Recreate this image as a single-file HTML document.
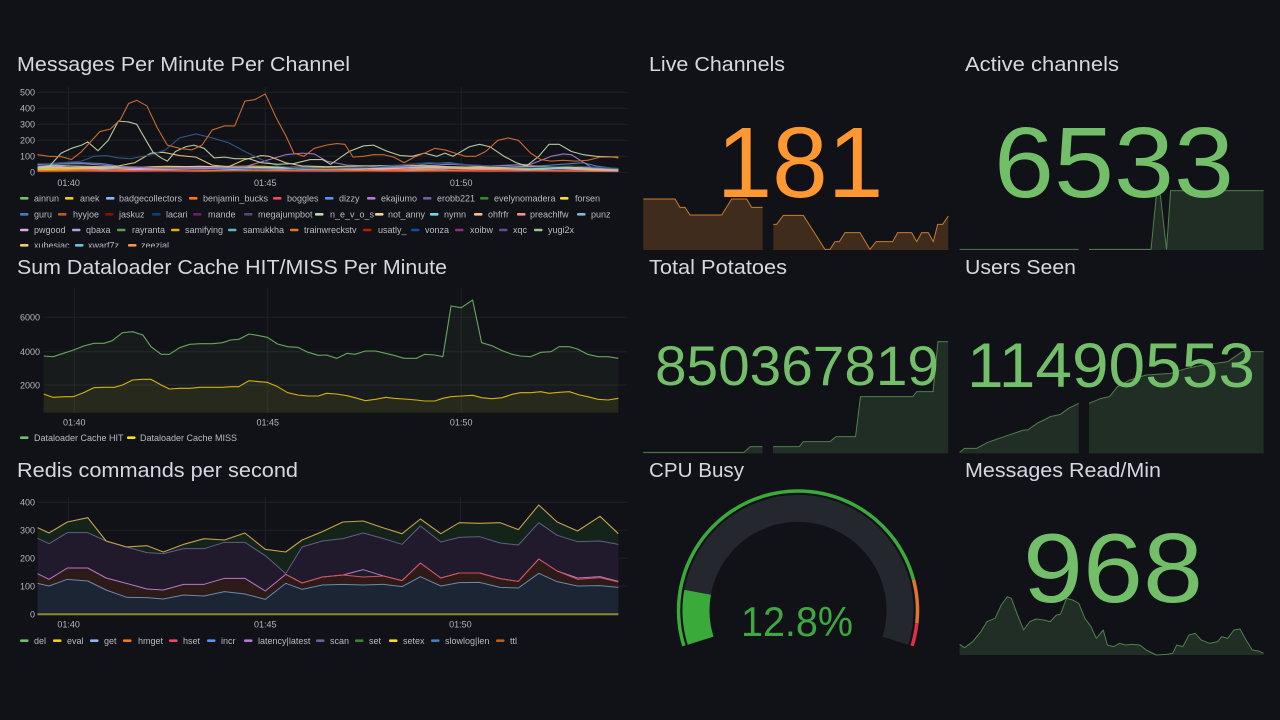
<!DOCTYPE html>
<html>
<head>
<meta charset="utf-8">
<style>
html,body{margin:0;padding:0;background:#111217;width:1280px;height:720px;overflow:hidden;}
svg{display:block;}
text{font-family:"Liberation Sans",Arial,sans-serif;}
.t{font-size:20.5px;fill:#d6d7e0;}
.ax{font-size:9px;fill:#b4b5bf;}
.lg{font-size:9px;fill:#b9bac4;}
.grid{stroke:#202127;stroke-width:1;}
.ns{vector-effect:non-scaling-stroke;fill:none;stroke-linejoin:round;}
</style>
</head>
<body>
<svg width="1280" height="720" viewBox="0 0 1280 720" xmlns="http://www.w3.org/2000/svg">
<rect x="0" y="0" width="1280" height="720" fill="#111217"/>
<defs>
<clipPath id="c1"><rect x="0" y="0" width="640" height="247.5"/></clipPath>
</defs>

<!-- ============ CHART 1 ============ -->
<text class="t" x="17" y="71" textLength="333" lengthAdjust="spacingAndGlyphs">Messages Per Minute Per Channel</text>
<g>
<line class="grid" x1="37.5" y1="92.3" x2="628" y2="92.3"/>
<line class="grid" x1="37.5" y1="108.3" x2="628" y2="108.3"/>
<line class="grid" x1="37.5" y1="124.3" x2="628" y2="124.3"/>
<line class="grid" x1="37.5" y1="140.3" x2="628" y2="140.3"/>
<line class="grid" x1="37.5" y1="156.3" x2="628" y2="156.3"/>
<line class="grid" x1="37.5" y1="172.3" x2="628" y2="172.3"/>
<line class="grid" x1="68.6" y1="87" x2="68.6" y2="172.3"/>
<line class="grid" x1="265.3" y1="87" x2="265.3" y2="172.3"/>
<line class="grid" x1="461.2" y1="87" x2="461.2" y2="172.3"/>
</g>
<g text-anchor="end">
<text class="ax" x="35" y="95.5">500</text>
<text class="ax" x="35" y="111.5">400</text>
<text class="ax" x="35" y="127.5">300</text>
<text class="ax" x="35" y="143.5">200</text>
<text class="ax" x="35" y="159.5">100</text>
<text class="ax" x="35" y="175.5">0</text>
</g>
<g text-anchor="middle">
<text class="ax" x="68.6" y="186">01:40</text>
<text class="ax" x="265.3" y="186">01:45</text>
<text class="ax" x="461.2" y="186">01:50</text>
</g>
<g transform="translate(0,172.33) scale(0.40816,-0.16)" stroke-width="1.1">
<polyline class="ns" stroke="#F2495C" points="92,6 200,8 300,6 400,8 500,6 600,10 700,8 800,6 900,8 1000,6 1100,8 1200,6 1300,8 1400,6 1515,5"/>
<polyline class="ns" stroke="#E0752D" points="92,8 200,10 300,12 400,15 500,12 600,10 700,12 800,15 900,12 1000,10 1100,12 1200,15 1300,12 1400,10 1515,8"/>
<polyline class="ns" stroke="#73BF69" points="92,20 130,22 170,25 210,20 250,18 290,22 330,25 370,28 410,30 450,26 490,24 530,22 570,20 610,25 650,28 690,22 730,20 770,18 810,20 850,22 890,25 930,28 970,30 1010,26 1050,22 1090,20 1130,24 1170,26 1210,22 1250,20 1290,18 1330,22 1370,25 1410,20 1450,18 1490,15 1515,12"/>
<polyline class="ns" stroke="#F2CC0C" points="92,15 130,18 170,20 210,22 250,25 290,28 330,30 370,35 410,38 450,36 490,33 530,35 570,38 610,36 650,30 690,28 730,25 770,22 810,20 850,18 890,20 930,22 970,25 1010,28 1050,30 1090,32 1130,30 1170,28 1210,25 1250,22 1290,20 1330,18 1370,22 1410,25 1450,30 1490,20 1515,15"/>
<polyline class="ns" stroke="#8AB8FF" points="92,50 130,45 170,40 210,35 250,30 290,28 330,25 370,22 410,20 450,22 490,25 530,20 570,18 610,20 650,22 690,25 730,20 770,18 810,15 850,18 890,20 930,22 970,18 1010,15 1050,18 1090,20 1130,25 1170,22 1210,20 1250,18 1290,15 1330,20 1370,22 1410,18 1450,15 1490,12 1515,10"/>
<polyline class="ns" stroke="#FF780A" points="92,10 130,12 170,15 210,18 250,20 290,25 330,30 370,28 410,25 450,22 490,25 530,30 570,35 610,40 650,38 690,30 730,25 770,20 810,18 850,15 890,12 930,15 970,18 1010,20 1050,22 1090,25 1130,20 1170,18 1210,15 1250,20 1290,25 1330,30 1370,35 1410,30 1450,25 1490,20 1515,15"/>
<polyline class="ns" stroke="#70DBED" points="92,35 130,30 170,25 210,28 250,30 290,32 330,30 370,28 410,25 450,30 490,35 530,32 570,28 610,25 650,28 690,30 730,32 770,28 810,25 850,22 890,20 930,25 970,28 1010,30 1050,35 1090,32 1130,28 1170,30 1210,32 1250,30 1290,28 1330,25 1370,30 1410,28 1450,25 1490,20 1515,18"/>
<polyline class="ns" stroke="#F9BA8F" points="92,30 130,28 170,26 210,28 250,32 290,35 330,30 370,28 410,32 450,35 490,38 530,35 570,32 610,30 650,28 690,26 730,30 770,32 810,28 850,25 890,28 930,30 970,32 1010,35 1050,30 1090,28 1130,32 1170,35 1210,40 1250,38 1290,30 1330,28 1370,32 1410,30 1450,28 1490,25 1515,22"/>
<polyline class="ns" stroke="#E5A8E2" points="92,40 130,35 170,30 210,25 250,22 290,20 330,18 370,20 410,22 450,25 490,28 530,30 570,25 610,22 650,20 690,18 730,22 770,25 810,28 850,25 890,22 930,20 970,25 1010,28 1050,30 1090,28 1130,25 1170,22 1210,20 1250,25 1290,28 1330,30 1370,25 1410,22 1450,20 1490,18 1515,15"/>
<polyline class="ns" stroke="#9AC48A" points="92,45 150,40 250,35 350,30 450,28 550,32 650,35 750,30 850,28 950,32 1050,35 1150,30 1250,28 1350,30 1450,25 1515,20"/>
<polyline class="ns" stroke="#4a7fb8" points="92,45 150,60 200,60 250,55 300,35 400,25 500,20 600,25 700,20 800,25 900,30 1000,35 1050,55 1100,60 1150,45 1200,40 1300,35 1400,55 1430,60 1460,40 1515,20"/>
<polyline class="ns" stroke="#a074c0" points="92,50 200,55 300,35 400,30 500,30 600,35 700,110 740,120 770,115 800,70 850,45 900,40 1000,35 1100,50 1200,40 1300,50 1350,100 1380,115 1400,110 1450,30 1515,20"/>
<polyline class="ns" stroke="#d8c07a" points="92,25 200,30 280,35 330,60 370,120 400,125 440,105 480,95 520,45 560,35 600,80 640,105 660,100 700,60 740,40 800,35 900,40 1000,45 1100,35 1200,30 1300,40 1400,30 1450,15 1515,15"/>
<polyline class="ns" stroke="#2a5783" points="92,40 150,60 200,70 230,100 260,105 290,90 320,85 370,110 405,140 440,215 480,240 520,215 560,185 600,130 640,80 680,40 720,30 800,25 900,30 1000,50 1050,60 1100,55 1200,40 1300,30 1400,40 1515,25"/>
<polyline class="ns" stroke="#b8c9a0" points="92,30 120,35 150,120 175,150 200,170 215,190 240,135 265,200 290,320 315,315 335,300 360,190 375,125 395,90 410,70 430,130 455,160 475,170 500,150 525,90 550,95 575,85 610,85 640,60 680,50 720,55 760,80 790,80 810,50 855,130 890,165 915,170 945,135 980,105 1010,100 1040,120 1070,100 1090,120 1110,100 1150,160 1175,175 1200,160 1235,100 1265,60 1290,40 1320,100 1345,175 1370,175 1400,130 1430,110 1460,100 1515,95"/>
<polyline class="ns" stroke="#cc6a2e" points="92,110 120,100 150,98 175,80 200,130 225,200 245,255 270,270 295,330 315,430 335,450 360,415 385,280 410,170 440,150 470,140 495,170 520,265 550,290 575,290 600,445 625,455 650,490 675,350 700,230 720,120 745,100 770,150 800,170 825,180 845,175 865,95 890,100 915,110 940,110 965,95 990,60 1015,95 1040,120 1065,150 1090,140 1115,120 1140,100 1165,100 1190,130 1220,200 1245,215 1270,200 1300,120 1325,80 1350,70 1380,75 1410,70 1440,75 1470,95 1500,95 1515,90"/>
</g>
<!-- legend chart1 -->
<g clip-path="url(#c1)">
<g>
<rect x="20" y="197" width="8.5" height="2.6" rx="1" fill="#73BF69"/><text class="lg" x="34" y="201.5">ainrun</text>
<rect x="65" y="197" width="8.5" height="2.6" rx="1" fill="#F2CC0C"/><text class="lg" x="80" y="201.5">anek</text>
<rect x="106" y="197" width="8.5" height="2.6" rx="1" fill="#8AB8FF"/><text class="lg" x="119" y="201.5">badgecollectors</text>
<rect x="189" y="197" width="8.5" height="2.6" rx="1" fill="#FF780A"/><text class="lg" x="203" y="201.5">benjamin_bucks</text>
<rect x="273" y="197" width="8.5" height="2.6" rx="1" fill="#F2495C"/><text class="lg" x="287" y="201.5">boggles</text>
<rect x="325" y="197" width="8.5" height="2.6" rx="1" fill="#5794F2"/><text class="lg" x="339" y="201.5">dizzy</text>
<rect x="367" y="197" width="8.5" height="2.6" rx="1" fill="#B877D9"/><text class="lg" x="381" y="201.5">ekajiumo</text>
<rect x="423" y="197" width="8.5" height="2.6" rx="1" fill="#705DA0"/><text class="lg" x="437" y="201.5">erobb221</text>
<rect x="480" y="197" width="8.5" height="2.6" rx="1" fill="#37872D"/><text class="lg" x="494" y="201.5">evelynomadera</text>
<rect x="560" y="197" width="8.5" height="2.6" rx="1" fill="#FADE2A"/><text class="lg" x="575" y="201.5">forsen</text>
</g>
<g>
<rect x="20" y="213" width="8.5" height="2.6" rx="1" fill="#447EBC"/><text class="lg" x="34" y="217.5">guru</text>
<rect x="58" y="213" width="8.5" height="2.6" rx="1" fill="#C15C17"/><text class="lg" x="73" y="217.5">hyyjoe</text>
<rect x="105" y="213" width="8.5" height="2.6" rx="1" fill="#890F02"/><text class="lg" x="119" y="217.5">jaskuz</text>
<rect x="152" y="213" width="8.5" height="2.6" rx="1" fill="#0A437C"/><text class="lg" x="166" y="217.5">lacari</text>
<rect x="193" y="213" width="8.5" height="2.6" rx="1" fill="#6D1F62"/><text class="lg" x="208" y="217.5">mande</text>
<rect x="244" y="213" width="8.5" height="2.6" rx="1" fill="#584477"/><text class="lg" x="258" y="217.5">megajumpbot</text>
<rect x="315" y="213" width="8.5" height="2.6" rx="1" fill="#B7DBAB"/><text class="lg" x="330" y="217.5">n_e_v_o_s</text>
<rect x="375" y="213" width="8.5" height="2.6" rx="1" fill="#F4D598"/><text class="lg" x="388" y="217.5">not_anny</text>
<rect x="430" y="213" width="8.5" height="2.6" rx="1" fill="#70DBED"/><text class="lg" x="444" y="217.5">nymn</text>
<rect x="474" y="213" width="8.5" height="2.6" rx="1" fill="#F9BA8F"/><text class="lg" x="488" y="217.5">ohfrfr</text>
<rect x="517" y="213" width="8.5" height="2.6" rx="1" fill="#F29191"/><text class="lg" x="530" y="217.5">preachlfw</text>
<rect x="577" y="213" width="8.5" height="2.6" rx="1" fill="#82B5D8"/><text class="lg" x="591" y="217.5">punz</text>
</g>
<g>
<rect x="20" y="228.7" width="8.5" height="2.6" rx="1" fill="#E5A8E2"/><text class="lg" x="34" y="233.2">pwgood</text>
<rect x="72" y="228.7" width="8.5" height="2.6" rx="1" fill="#AEA2E0"/><text class="lg" x="86" y="233.2">qbaxa</text>
<rect x="117" y="228.7" width="8.5" height="2.6" rx="1" fill="#629E51"/><text class="lg" x="132" y="233.2">rayranta</text>
<rect x="171" y="228.7" width="8.5" height="2.6" rx="1" fill="#E5AC0E"/><text class="lg" x="185" y="233.2">samifying</text>
<rect x="228" y="228.7" width="8.5" height="2.6" rx="1" fill="#64B0C8"/><text class="lg" x="243" y="233.2">samukkha</text>
<rect x="290" y="228.7" width="8.5" height="2.6" rx="1" fill="#E0752D"/><text class="lg" x="304" y="233.2">trainwreckstv</text>
<rect x="363" y="228.7" width="8.5" height="2.6" rx="1" fill="#BF1B00"/><text class="lg" x="378" y="233.2">usatly_</text>
<rect x="411" y="228.7" width="8.5" height="2.6" rx="1" fill="#0A50A1"/><text class="lg" x="425" y="233.2">vonza</text>
<rect x="455" y="228.7" width="8.5" height="2.6" rx="1" fill="#962D82"/><text class="lg" x="470" y="233.2">xoibw</text>
<rect x="499" y="228.7" width="8.5" height="2.6" rx="1" fill="#614D93"/><text class="lg" x="513" y="233.2">xqc</text>
<rect x="534" y="228.7" width="8.5" height="2.6" rx="1" fill="#9AC48A"/><text class="lg" x="548" y="233.2">yugi2x</text>
</g>
<g>
<rect x="20" y="244" width="8.5" height="2.6" rx="1" fill="#F2C96D"/><text class="lg" x="34" y="248.6">xubesiac</text>
<rect x="75" y="244" width="8.5" height="2.6" rx="1" fill="#65C5DB"/><text class="lg" x="88" y="248.6">xwarf7z</text>
<rect x="128" y="244" width="8.5" height="2.6" rx="1" fill="#F9934E"/><text class="lg" x="141" y="248.6">zeezial</text>
</g>
</g>

<!-- ============ CHART 2 ============ -->
<text class="t" x="17" y="274" textLength="430" lengthAdjust="spacingAndGlyphs">Sum Dataloader Cache HIT/MISS Per Minute</text>
<g>
<line class="grid" x1="43.7" y1="317.3" x2="627" y2="317.3"/>
<line class="grid" x1="43.7" y1="351.7" x2="627" y2="351.7"/>
<line class="grid" x1="43.7" y1="385" x2="627" y2="385"/>
<line class="grid" x1="74.3" y1="288" x2="74.3" y2="412.7"/>
<line class="grid" x1="267.8" y1="288" x2="267.8" y2="412.7"/>
<line class="grid" x1="461.2" y1="288" x2="461.2" y2="412.7"/>
</g>
<g text-anchor="end">
<text class="ax" x="40" y="320.5">6000</text>
<text class="ax" x="40" y="355">4000</text>
<text class="ax" x="40" y="388.3">2000</text>
</g>
<g text-anchor="middle">
<text class="ax" x="74.3" y="425.6">01:40</text>
<text class="ax" x="267.8" y="425.6">01:45</text>
<text class="ax" x="461.2" y="425.6">01:50</text>
</g>
<g transform="translate(0,250) scale(0.40816,0.33333)">
<polygon fill="#73BF69" fill-opacity="0.06" points="107,318 130,320 160,308 180,300 205,288 230,280 255,280 275,272 300,248 325,245 350,255 370,290 395,313 415,313 440,293 465,283 490,281 520,281 545,278 565,270 585,268 610,252 635,257 655,262 680,282 705,290 730,292 755,307 780,316 800,315 825,325 850,310 870,313 895,303 920,303 945,310 965,316 990,325 1020,325 1040,313 1065,315 1085,320 1105,168 1130,173 1158,150 1180,278 1205,287 1230,302 1255,313 1275,318 1300,320 1325,307 1350,305 1370,290 1395,290 1415,297 1440,313 1465,320 1490,320 1515,325 1515,488 107,488"/>
<polygon fill="#FADE2A" fill-opacity="0.07" points="107,432 130,442 160,440 180,440 205,428 230,413 255,412 280,412 300,405 325,390 350,388 370,388 395,405 415,417 440,415 465,415 490,412 520,412 545,412 565,410 585,410 610,392 635,395 655,397 680,410 705,428 730,435 755,438 780,438 800,430 825,432 850,437 870,443 895,452 920,448 945,442 965,445 990,447 1020,450 1040,453 1065,453 1085,445 1105,440 1130,438 1158,436 1180,443 1205,446 1230,443 1255,433 1275,428 1300,428 1325,425 1345,430 1370,427 1395,425 1420,435 1440,440 1465,448 1490,450 1515,445 1515,488 107,488"/>
<polyline class="ns" stroke="#73BF69" stroke-opacity="0.85" stroke-width="1.1" points="107,318 130,320 160,308 180,300 205,288 230,280 255,280 275,272 300,248 325,245 350,255 370,290 395,313 415,313 440,293 465,283 490,281 520,281 545,278 565,270 585,268 610,252 635,257 655,262 680,282 705,290 730,292 755,307 780,316 800,315 825,325 850,310 870,313 895,303 920,303 945,310 965,316 990,325 1020,325 1040,313 1065,315 1085,320 1105,168 1130,173 1158,150 1180,278 1205,287 1230,302 1255,313 1275,318 1300,320 1325,307 1350,305 1370,290 1395,290 1415,297 1440,313 1465,320 1490,320 1515,325"/>
<polyline class="ns" stroke="#F2CC0C" stroke-opacity="0.85" stroke-width="1.1" points="107,432 130,442 160,440 180,440 205,428 230,413 255,412 280,412 300,405 325,390 350,388 370,388 395,405 415,417 440,415 465,415 490,412 520,412 545,412 565,410 585,410 610,392 635,395 655,397 680,410 705,428 730,435 755,438 780,438 800,430 825,432 850,437 870,443 895,452 920,448 945,442 965,445 990,447 1020,450 1040,453 1065,453 1085,445 1105,440 1130,438 1158,436 1180,443 1205,446 1230,443 1255,433 1275,428 1300,428 1325,425 1345,430 1370,427 1395,425 1420,435 1440,440 1465,448 1490,450 1515,445"/>
</g>
<rect x="20" y="436.4" width="8.5" height="2.6" rx="1" fill="#73BF69"/><text class="lg" x="34" y="441">Dataloader Cache HIT</text>
<rect x="127" y="436.4" width="8.5" height="2.6" rx="1" fill="#FADE2A"/><text class="lg" x="140" y="441">Dataloader Cache MISS</text>

<!-- ============ CHART 3 ============ -->
<text class="t" x="17" y="477" textLength="281" lengthAdjust="spacingAndGlyphs">Redis commands per second</text>
<g>
<line class="grid" x1="37.5" y1="502.3" x2="628" y2="502.3"/>
<line class="grid" x1="37.5" y1="530.3" x2="628" y2="530.3"/>
<line class="grid" x1="37.5" y1="558.3" x2="628" y2="558.3"/>
<line class="grid" x1="37.5" y1="586.3" x2="628" y2="586.3"/>
<line class="grid" x1="68.6" y1="497" x2="68.6" y2="614"/>
<line class="grid" x1="265.3" y1="497" x2="265.3" y2="614"/>
<line class="grid" x1="460.4" y1="497" x2="460.4" y2="614"/>
</g>
<g text-anchor="end">
<text class="ax" x="35" y="505.5">400</text>
<text class="ax" x="35" y="533.5">300</text>
<text class="ax" x="35" y="561.5">200</text>
<text class="ax" x="35" y="589.5">100</text>
<text class="ax" x="35" y="617.5">0</text>
</g>
<g text-anchor="middle">
<text class="ax" x="68.6" y="627.6">01:40</text>
<text class="ax" x="265.3" y="627.6">01:45</text>
<text class="ax" x="460.4" y="627.6">01:50</text>
</g>
<g transform="translate(0,450) scale(0.40816,0.33333)">
<polygon fill="#1c2533" points="92,400 120,408 165,388 215,393 260,420 310,442 360,443 400,447 450,435 500,438 550,425 600,432 650,448 700,400 740,418 790,405 840,403 890,405 940,403 985,410 1030,380 1080,408 1125,398 1175,397 1225,412 1270,414 1320,370 1365,395 1415,408 1470,407 1515,412 1515,493 92,493"/>
<polygon fill="#2d1b19" points="92,371 120,388 165,354 215,354 260,384 310,400 360,417 400,420 450,403 500,403 550,385 600,385 650,423 700,373 740,399 790,381 840,375 890,381 940,378 985,392 1030,339 1080,384 1125,369 1175,369 1225,386 1270,394 1320,327 1365,363 1415,384 1470,380 1515,394 1515,412 1470,407 1415,408 1365,395 1320,370 1270,414 1225,412 1175,397 1125,398 1080,408 1030,380 985,410 940,403 890,405 840,403 790,405 740,418 700,400 650,448 600,432 550,425 500,438 450,435 400,447 360,443 310,442 260,420 215,393 165,388 120,408 92,400"/>
<polygon fill="#201a2c" points="92,265 120,281 165,248 215,248 260,273 310,291 360,308 400,311 450,296 500,296 550,277 600,277 650,317 700,371 740,291 790,273 840,266 890,249 940,266 985,283 1030,228 1080,276 1125,262 1175,260 1225,279 1270,285 1320,218 1365,256 1415,275 1470,273 1515,283 1515,394 1470,380 1415,384 1365,363 1320,327 1270,394 1225,386 1175,369 1125,369 1080,384 1030,339 985,392 940,378 890,381 840,375 790,381 740,399 700,373 650,423 600,385 550,385 500,403 450,403 400,420 360,417 310,400 260,384 215,354 165,354 120,388 92,371"/>
<polygon fill="#15241a" points="92,233 120,249 165,216 215,203 260,273 310,291 360,287 400,306 450,283 500,266 550,270 600,249 650,298 700,306 740,270 790,245 840,216 890,213 940,234 985,251 1030,207 1080,251 1125,218 1175,220 1225,218 1270,239 1320,165 1365,216 1415,243 1470,199 1515,251 1515,283 1470,273 1415,275 1365,256 1320,218 1270,285 1225,279 1175,260 1125,262 1080,276 1030,228 985,283 940,266 890,249 840,266 790,273 740,291 700,371 650,317 600,277 550,277 500,296 450,296 400,311 360,308 310,291 260,273 215,248 165,248 120,281 92,265"/>
<polyline class="ns" stroke="#6c87ad" stroke-width="1" points="92,400 120,408 165,388 215,393 260,420 310,442 360,443 400,447 450,435 500,438 550,425 600,432 650,448 700,400 740,418 790,405 840,403 890,405 940,403 985,410 1030,380 1080,408 1125,398 1175,397 1225,412 1270,414 1320,370 1365,395 1415,408 1470,407 1515,412"/>
<polyline class="ns" stroke="#b878c8" stroke-width="1" points="92,371 120,388 165,354 215,354 260,384 310,400 360,417 400,420 450,403 500,403 550,385 600,385 650,423 700,373 740,399 790,381 840,375 890,359 940,378 985,392 1030,339 1080,384 1125,369 1175,369 1225,386 1270,394 1320,327 1365,363 1415,384 1470,380 1515,394"/>
<polyline class="ns" stroke="#d0525c" stroke-width="1" points="700,373 740,399 790,381 840,375 890,381 940,378 985,392 1030,339 1080,384 1125,369 1175,369 1225,386 1270,394 1320,327 1365,363 1415,388 1470,383 1515,396"/>
<polyline class="ns" stroke="#5d5f86" stroke-width="1" points="92,265 120,281 165,248 215,248 260,273 310,291 360,308 400,311 450,296 500,296 550,277 600,277 650,317 700,371 740,291 790,273 840,266 890,249 940,266 985,283 1030,228 1080,276 1125,262 1175,260 1225,279 1270,285 1320,218 1365,256 1415,275 1470,273 1515,283"/>
<polyline class="ns" stroke="#c9a04a" stroke-width="1.1" points="92,233 120,249 165,216 215,203 260,273 310,291 360,287 400,306 450,283 500,266 550,270 600,249 650,298 700,306 740,270 790,245 840,216 890,213 940,234 985,251 1030,207 1080,251 1125,218 1175,220 1225,218 1270,239 1320,165 1365,216 1415,243 1470,199 1515,251"/>
</g>
<line x1="37.5" y1="614.3" x2="618.4" y2="614.3" stroke="#8a8830" stroke-width="2"/>
<g>
<rect x="20" y="639.4" width="8.5" height="2.6" rx="1" fill="#73BF69"/><text class="lg" x="34" y="644">del</text>
<rect x="53" y="639.4" width="8.5" height="2.6" rx="1" fill="#F2CC0C"/><text class="lg" x="67" y="644">eval</text>
<rect x="90" y="639.4" width="8.5" height="2.6" rx="1" fill="#8AB8FF"/><text class="lg" x="104" y="644">get</text>
<rect x="123" y="639.4" width="8.5" height="2.6" rx="1" fill="#FF780A"/><text class="lg" x="138" y="644">hmget</text>
<rect x="169" y="639.4" width="8.5" height="2.6" rx="1" fill="#F2495C"/><text class="lg" x="183" y="644">hset</text>
<rect x="207" y="639.4" width="8.5" height="2.6" rx="1" fill="#5794F2"/><text class="lg" x="221" y="644">incr</text>
<rect x="244" y="639.4" width="8.5" height="2.6" rx="1" fill="#B877D9"/><text class="lg" x="258" y="644">latency|latest</text>
<rect x="316" y="639.4" width="8.5" height="2.6" rx="1" fill="#705DA0"/><text class="lg" x="330" y="644">scan</text>
<rect x="355" y="639.4" width="8.5" height="2.6" rx="1" fill="#37872D"/><text class="lg" x="369" y="644">set</text>
<rect x="389" y="639.4" width="8.5" height="2.6" rx="1" fill="#FADE2A"/><text class="lg" x="403" y="644">setex</text>
<rect x="431" y="639.4" width="8.5" height="2.6" rx="1" fill="#447EBC"/><text class="lg" x="445" y="644">slowlog|len</text>
<rect x="496" y="639.4" width="8.5" height="2.6" rx="1" fill="#C15C17"/><text class="lg" x="510" y="644">ttl</text>
</g>

<!-- ============ STAT: Live Channels ============ -->
<text class="t" x="649" y="71" textLength="136" lengthAdjust="spacingAndGlyphs">Live Channels</text>
<g transform="translate(640,180) scale(0.33333)">
<polygon fill="#FF9830" fill-opacity="0.2" points="10,57 105,57 120,82 135,82 150,105 245,105 275,57 320,57 335,82 368,82 368,210 10,210"/>
<polyline class="ns" stroke="#FF9830" stroke-opacity="0.75" stroke-width="1" points="10,57 105,57 120,82 135,82 150,105 245,105 275,57 320,57 335,82 368,82"/>
<polygon fill="#FF9830" fill-opacity="0.2" points="400,133 410,133 430,106 490,106 555,208 570,208 585,185 598,185 615,158 660,158 690,208 708,185 758,185 773,158 815,158 830,185 845,158 865,158 880,185 893,133 908,133 925,108 925,210 400,210"/>
<polyline class="ns" stroke="#FF9830" stroke-opacity="0.75" stroke-width="1" points="400,133 410,133 430,106 490,106 555,208 570,208 585,185 598,185 615,158 660,158 690,208 708,185 758,185 773,158 815,158 830,185 845,158 865,158 880,185 893,133 908,133 925,108"/>
</g>
<text x="800" y="197" text-anchor="middle" font-size="100" fill="#FF9830">181</text>

<!-- ============ STAT: Active channels ============ -->
<text class="t" x="965" y="71" textLength="154" lengthAdjust="spacingAndGlyphs">Active channels</text>
<g transform="translate(640,40) scale(0.40816,0.33333)">
<polyline class="ns" stroke="#73BF69" stroke-opacity="0.6" stroke-width="1" points="783,628 1075,628"/>
<polygon fill="#73BF69" fill-opacity="0.17" points="1100,628 1252,628 1265,465 1275,465 1290,628 1300,452 1528,452 1528,630 1100,630"/>
<polyline class="ns" stroke="#73BF69" stroke-opacity="0.6" stroke-width="1" points="1100,628 1252,628 1265,465 1275,465 1290,628 1300,452 1528,452"/>
</g>
<text x="1114" y="197" text-anchor="middle" font-size="100" fill="#73BF69" textLength="240" lengthAdjust="spacingAndGlyphs">6533</text>

<!-- ============ STAT: Total Potatoes ============ -->
<text class="t" x="649" y="274" textLength="138" lengthAdjust="spacingAndGlyphs">Total Potatoes</text>
<g transform="translate(640,250) scale(0.40816,0.33333)">
<polygon fill="#73BF69" fill-opacity="0.17" points="8,607 255,607 270,590 300,590 300,610 8,610"/>
<polyline class="ns" stroke="#73BF69" stroke-opacity="0.6" stroke-width="1" points="8,607 255,607 270,590 300,590"/>
<polygon fill="#73BF69" fill-opacity="0.17" points="326,590 390,590 400,575 465,575 480,560 528,560 540,440 668,440 678,425 718,425 730,275 755,275 755,610 326,610"/>
<polyline class="ns" stroke="#73BF69" stroke-opacity="0.6" stroke-width="1" points="326,590 390,590 400,575 465,575 480,560 528,560 540,440 668,440 678,425 718,425 730,275 755,275"/>
</g>
<text x="797" y="385" text-anchor="middle" font-size="56" fill="#73BF69" textLength="284" lengthAdjust="spacingAndGlyphs">850367819</text>

<!-- ============ STAT: Users Seen ============ -->
<text class="t" x="965" y="274" textLength="111" lengthAdjust="spacingAndGlyphs">Users Seen</text>
<g transform="translate(640,250) scale(0.40816,0.33333)">
<polygon fill="#73BF69" fill-opacity="0.17" points="783,607 795,595 825,595 850,578 880,565 940,540 950,540 975,518 990,510 1005,500 1030,493 1050,475 1075,460 1075,610 783,610"/>
<polyline class="ns" stroke="#73BF69" stroke-opacity="0.6" stroke-width="1" points="783,607 795,595 825,595 850,578 880,565 940,540 950,540 975,518 990,510 1005,500 1030,493 1050,475 1075,460"/>
<polygon fill="#73BF69" fill-opacity="0.17" points="1100,460 1130,445 1150,440 1170,410 1200,390 1240,375 1300,370 1340,355 1380,345 1440,335 1475,305 1528,305 1528,610 1100,610"/>
<polyline class="ns" stroke="#73BF69" stroke-opacity="0.6" stroke-width="1" points="1100,460 1130,445 1150,440 1170,410 1200,390 1240,375 1300,370 1340,355 1380,345 1440,335 1475,305 1528,305"/>
</g>
<text x="1111" y="387" text-anchor="middle" font-size="63" fill="#73BF69" textLength="288" lengthAdjust="spacingAndGlyphs">11490553</text>

<!-- ============ GAUGE: CPU Busy ============ -->
<text class="t" x="649" y="477" textLength="95" lengthAdjust="spacingAndGlyphs">CPU Busy</text>
<path d="M700.6,640.7 A102,102 0 1 1 895.4,640.7" fill="none" stroke="#25272e" stroke-width="27"/>
<path d="M700.6,640.7 A102,102 0 0 1 697.6,592.3" fill="none" stroke="#3aaa3a" stroke-width="27"/>
<path d="M683.9,645.9 A119.5,119.5 0 1 1 913.5,579.7" fill="none" stroke="#3aaa3a" stroke-width="3.5"/>
<path d="M913.5,579.7 A119.5,119.5 0 0 1 916.8,623.3" fill="none" stroke="#e0752d" stroke-width="3.5"/>
<path d="M916.8,623.3 A119.5,119.5 0 0 1 912.1,645.9" fill="none" stroke="#e02f44" stroke-width="3.5"/>
<text x="797" y="636" text-anchor="middle" font-size="42" fill="#3da83f" textLength="112" lengthAdjust="spacingAndGlyphs">12.8%</text>

<!-- ============ STAT: Messages Read/Min ============ -->
<text class="t" x="965" y="477" textLength="196" lengthAdjust="spacingAndGlyphs">Messages Read/Min</text>
<g transform="translate(640,455) scale(0.40816,0.33333)">
<polygon fill="#73BF69" fill-opacity="0.17" points="783,568 795,578 815,560 835,530 850,500 870,490 885,450 900,425 910,430 925,480 940,525 955,500 970,492 990,495 1005,500 1020,480 1030,478 1045,430 1060,435 1075,445 1090,490 1105,515 1118,550 1125,540 1135,525 1145,570 1160,575 1175,565 1190,570 1205,568 1225,570 1240,585 1265,600 1290,598 1305,595 1315,570 1330,575 1345,540 1360,535 1375,555 1395,565 1415,560 1425,545 1440,550 1455,525 1470,522 1485,555 1500,585 1515,588 1528,595 1528,600 783,600"/>
<polyline class="ns" stroke="#73BF69" stroke-opacity="0.6" stroke-width="1" points="783,568 795,578 815,560 835,530 850,500 870,490 885,450 900,425 910,430 925,480 940,525 955,500 970,492 990,495 1005,500 1020,480 1030,478 1045,430 1060,435 1075,445 1090,490 1105,515 1118,550 1125,540 1135,525 1145,570 1160,575 1175,565 1190,570 1205,568 1225,570 1240,585 1265,600 1290,598 1305,595 1315,570 1330,575 1345,540 1360,535 1375,555 1395,565 1415,560 1425,545 1440,550 1455,525 1470,522 1485,555 1500,585 1515,588 1528,595"/>
</g>
<text x="1113" y="602" text-anchor="middle" font-size="98" fill="#73BF69" textLength="180" lengthAdjust="spacingAndGlyphs">968</text>
</svg>
</body>
</html>
